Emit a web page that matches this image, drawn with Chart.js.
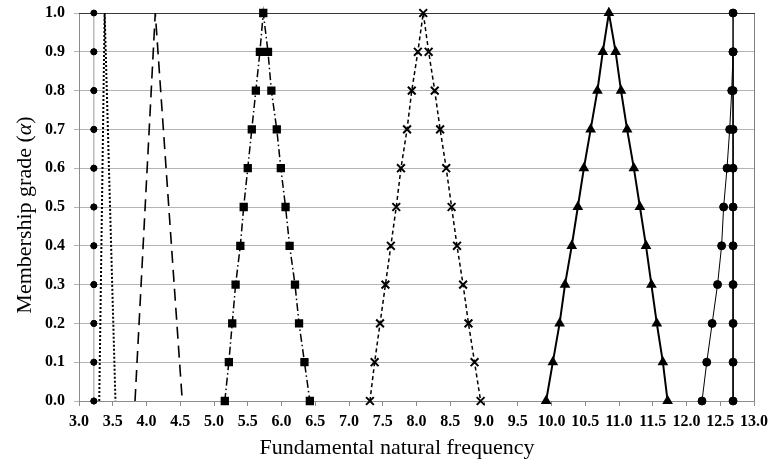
<!DOCTYPE html>
<html>
<head>
<meta charset="utf-8">
<script src="https://cdn.jsdelivr.net/npm/chart.js@4.4.1/dist/chart.umd.min.js"></script>
<style>
  html, body { margin: 0; padding: 0; background: #fff; }
  #wrap { width: 770px; height: 465px; position: relative; }
</style>
</head>
<body>
<div id="wrap"><canvas id="chart" width="770" height="465"></canvas></div>
<script>
// alpha cuts
const alphaLevels = [0.0, 0.1, 0.2, 0.3, 0.4, 0.5, 0.6, 0.7, 0.8, 0.9, 1.0];
const alphaEnds = [0.0, 1.0];

// left branch goes with alpha up, right branch with alpha up as well (drawn back down)
const s1Left  = [3.22, 3.22, 3.22, 3.22, 3.22, 3.22, 3.22, 3.22, 3.22, 3.22, 3.22];
const s1Right = [3.22, 3.22, 3.22, 3.22, 3.22, 3.22, 3.22, 3.22, 3.22, 3.22, 3.22];
const s2Left  = [3.30, 3.38];
const s2Right = [3.54, 3.38];
const s3Left  = [3.83, 4.13];
const s3Right = [4.53, 4.13];
const s4Left  = [5.16, 5.22, 5.27, 5.32, 5.39, 5.44, 5.50, 5.56, 5.62, 5.68, 5.73];
const s4Right = [6.42, 6.34, 6.26, 6.20, 6.12, 6.06, 5.99, 5.93, 5.85, 5.80, 5.73];
const s5Left  = [7.31, 7.38, 7.46, 7.54, 7.62, 7.70, 7.77, 7.86, 7.93, 8.02, 8.10];
const s5Right = [8.95, 8.86, 8.77, 8.69, 8.60, 8.52, 8.44, 8.35, 8.27, 8.18, 8.10];
const s6Left  = [9.92, 10.02, 10.12, 10.20, 10.30, 10.39, 10.48, 10.58, 10.68, 10.76, 10.85];
const s6Right = [11.72, 11.65, 11.56, 11.48, 11.40, 11.31, 11.22, 11.12, 11.03, 10.95, 10.85];
const s7Left  = [12.23, 12.30, 12.38, 12.46, 12.52, 12.55, 12.60, 12.64, 12.67, 12.69, 12.69];
const s7Right = [12.69, 12.69, 12.69, 12.69, 12.69, 12.69, 12.69, 12.69, 12.69, 12.69, 12.69];

const xTicks = [3.0, 3.5, 4.0, 4.5, 5.0, 5.5, 6.0, 6.5, 7.0, 7.5, 8.0, 8.5, 9.0, 9.5, 10.0, 10.5, 11.0, 11.5, 12.0, 12.5, 13.0];
const yTicks = [0.0, 0.1, 0.2, 0.3, 0.4, 0.5, 0.6, 0.7, 0.8, 0.9, 1.0];

const xTitle = 'Fundamental natural frequency';
const yTitle = ['Membership grade (', 'α', ')'];

function triangle(left, right, alphas) {
    const pts = alphas.map((a, i) => ({ x: left[i], y: a }));
    for (let i = alphas.length - 1; i >= 0; i--) {
        if (i === alphas.length - 1 && right[i] === left[i]) continue;
        pts.push({ x: right[i], y: alphas[i] });
    }
    return pts;
}

function series(data, style) {
    return Object.assign({
        data: data,
        showLine: true,
        fill: false,
        borderColor: '#000',
        backgroundColor: '#000',
        pointBorderColor: '#000',
        pointBackgroundColor: '#000',
        borderWidth: 1.5,
        pointRadius: 0,
        tension: 0,
        clip: false
    }, style);
}

const datasets = [
    series(triangle(s1Left, s1Right, alphaLevels), { borderColor: '#9a9a9a', borderWidth: 1, borderDash: [2, 2], pointStyle: 'circle', pointRadius: 3 }),
    series(triangle(s2Left, s2Right, alphaEnds), { borderWidth: 2, borderDash: [2, 2] }),
    series(triangle(s3Left, s3Right, alphaEnds), { borderWidth: 1.6, borderDash: [12, 7] }),
    series(triangle(s4Left, s4Right, alphaLevels), { borderWidth: 1.5, borderDash: [8, 3, 1.5, 3], pointStyle: 'rect', pointRadius: 4.8 }),
    series(triangle(s5Left, s5Right, alphaLevels), { borderWidth: 1.5, borderDash: [4, 3], pointStyle: 'crossRot', pointRadius: 5.5, pointBorderWidth: 2 }),
    series(triangle(s6Left, s6Right, alphaLevels), { borderWidth: 2, pointStyle: 'triangle', pointRadius: 4.2 }),
    series(triangle(s7Left, s7Right, alphaLevels), { borderWidth: 1, pointStyle: 'circle', pointRadius: 4 })
];

// frame + axis titles drawn by hand
const framePlugin = {
    id: 'frame',
    beforeDatasetsDraw(chart) {
        const { ctx, chartArea: a } = chart;
        ctx.save();
        ctx.lineWidth = 1;
        ctx.strokeStyle = '#808080';
        ctx.beginPath();
        ctx.moveTo(a.right + 0.5, a.top);
        ctx.lineTo(a.right + 0.5, a.bottom);
        ctx.stroke();
        ctx.strokeStyle = '#3a3a3a';
        ctx.beginPath();
        ctx.moveTo(a.left, a.top + 0.5);
        ctx.lineTo(a.right + 1, a.top + 0.5);
        ctx.stroke();
        ctx.restore();
    },
    afterDraw(chart) {
        const ctx = chart.ctx;
        ctx.save();
        ctx.fillStyle = '#000';
        ctx.textBaseline = 'middle';
        ctx.textAlign = 'center';
        ctx.font = '22px "Liberation Serif"';
        ctx.fillText(xTitle, 397, 448);

        ctx.translate(25, 215);
        ctx.rotate(-Math.PI / 2);
        const fonts = ['22px "Liberation Serif"', 'italic 22px "Liberation Serif"', '22px "Liberation Serif"'];
        let total = 0;
        yTitle.forEach((t, i) => { ctx.font = fonts[i]; total += ctx.measureText(t).width; });
        let x = -total / 2;
        ctx.textAlign = 'left';
        yTitle.forEach((t, i) => {
            ctx.font = fonts[i];
            ctx.fillText(t, x, 0);
            x += ctx.measureText(t).width;
        });
        ctx.restore();
    }
};

const tickFont = { family: '"Liberation Serif"', size: 16, weight: 'bold' };

new Chart(document.getElementById('chart'), {
    type: 'scatter',
    data: { datasets: datasets },
    plugins: [framePlugin],
    options: {
        responsive: false,
        animation: false,
        events: [],
        layout: { padding: { left: 0, top: 13, right: 16, bottom: 0 } },
        plugins: { legend: { display: false }, tooltip: { enabled: false } },
        scales: {
            x: {
                type: 'linear',
                min: 3.0,
                max: 13.0,
                afterBuildTicks: s => { s.ticks = xTicks.map(v => ({ value: v })); },
                afterFit: s => { s.height = 64; s.paddingLeft = 0; s.paddingRight = 0; },
                ticks: {
                    font: tickFont,
                    color: '#000',
                    padding: 6,
                    maxRotation: 0,
                    autoSkip: false,
                    callback: v => Number(v).toFixed(1)
                },
                grid: { drawOnChartArea: false, drawTicks: true, tickLength: 5, color: '#8c8c8c' },
                border: { color: '#8c8c8c' }
            },
            y: {
                type: 'linear',
                min: 0.0,
                max: 1.0,
                afterBuildTicks: s => { s.ticks = yTicks.map(v => ({ value: v })); },
                afterFit: s => { s.width = 79; s.paddingTop = 0; s.paddingBottom = 0; },
                ticks: {
                    font: tickFont,
                    color: '#000',
                    padding: 9,
                    autoSkip: false,
                    callback: v => Number(v).toFixed(1)
                },
                grid: { color: '#b4b4b4', tickLength: 5, lineWidth: 1 },
                border: { color: '#8c8c8c' }
            }
        }
    }
});
</script>
</body>
</html>
